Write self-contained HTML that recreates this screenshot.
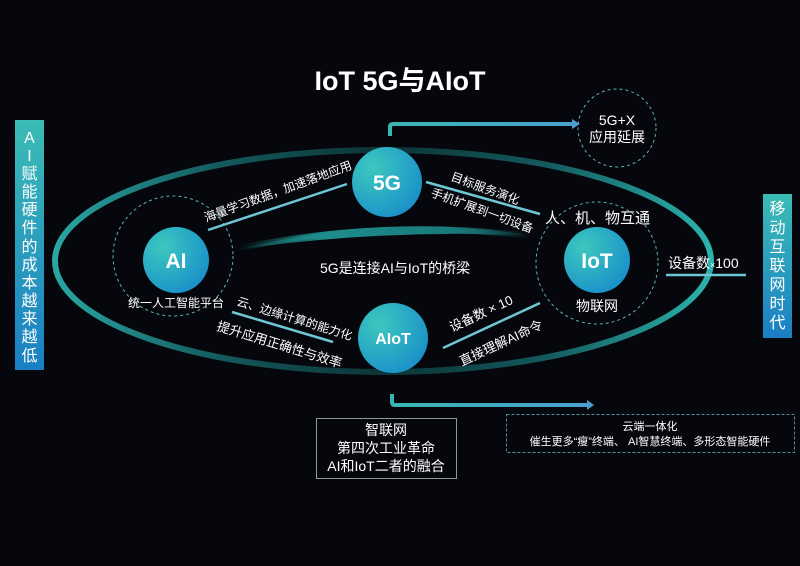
<!DOCTYPE html>
<html><head><meta charset="utf-8"><style>
html,body{margin:0;padding:0;background:#05070c;}
svg{display:block;}
text{font-family:"Liberation Sans","Noto Sans CJK SC",sans-serif;fill:#fff;}
</style></head><body>
<svg width="800" height="566" viewBox="0 0 800 566" xmlns="http://www.w3.org/2000/svg">
<defs>
<radialGradient id="cg" cx="30%" cy="30%" r="80%">
<stop offset="0" stop-color="#3cc8bf"/><stop offset="1" stop-color="#1a8fc9"/></radialGradient>
<linearGradient id="bar" x1="0" y1="0" x2="0" y2="1">
<stop offset="0" stop-color="#3bbcb5"/><stop offset="1" stop-color="#1a7fc4"/></linearGradient>
<linearGradient id="ell" x1="0" y1="0" x2="1" y2="0">
<stop offset="0" stop-color="#2aa6a2"/><stop offset="0.25" stop-color="#145a5d"/><stop offset="0.5" stop-color="#0c3436"/><stop offset="0.75" stop-color="#145a5d"/><stop offset="1" stop-color="#2bb3ad"/></linearGradient>
<linearGradient id="band" x1="0" y1="0" x2="1" y2="0">
<stop offset="0" stop-color="#1e8d8c" stop-opacity="0"/><stop offset="0.3" stop-color="#1e8d8c"/><stop offset="0.7" stop-color="#1a7a7c"/><stop offset="1" stop-color="#1a7a7c" stop-opacity="0"/></linearGradient>
<linearGradient id="arr" x1="0" y1="0" x2="1" y2="0">
<stop offset="0" stop-color="#3ab7b2"/><stop offset="1" stop-color="#4a9fd0"/></linearGradient>
</defs>
<rect width="800" height="566" fill="#05070c"/>
<text x="400" y="90" font-size="27" font-weight="bold" text-anchor="middle">IoT 5G与AIoT</text>

<ellipse cx="383" cy="261" rx="328" ry="111" fill="none" stroke="url(#ell)" stroke-width="6"/>
<path d="M235,250 Q385,212 535,236 Q385,228 235,250 Z" fill="url(#band)"/>
<path d="M240,248 Q385,218 530,236" fill="none" stroke="url(#band)" stroke-width="6"/>

<rect x="15" y="120" width="29" height="250" fill="url(#bar)"/>
<g font-size="16" text-anchor="middle">
<text x="29.5" y="143">A</text><text x="29.5" y="161">I</text><text x="29.5" y="179">赋</text><text x="29.5" y="197">能</text><text x="29.5" y="215">硬</text><text x="29.5" y="233">件</text><text x="29.5" y="252">的</text><text x="29.5" y="270">成</text><text x="29.5" y="288">本</text><text x="29.5" y="306">越</text><text x="29.5" y="324">来</text><text x="29.5" y="342">越</text><text x="29.5" y="361">低</text>
</g>
<rect x="763" y="194" width="29" height="144" fill="url(#bar)"/>
<g font-size="16" text-anchor="middle">
<text x="777.5" y="214">移</text><text x="777.5" y="233">动</text><text x="777.5" y="252">互</text><text x="777.5" y="271">联</text><text x="777.5" y="290">网</text><text x="777.5" y="309">时</text><text x="777.5" y="328">代</text>
</g>

<path d="M390,136 V127 Q390,124 393,124 H573" fill="none" stroke="url(#arr)" stroke-width="4"/>
<path d="M572,119 L580,124 L572,129 Z" fill="#4a9fd0"/>
<path d="M392,394 V402 Q392,405 395,405 H588" fill="none" stroke="url(#arr)" stroke-width="4"/>
<path d="M587,400 L594,405 L587,410 Z" fill="#4a9fd0"/>

<g fill="none" stroke="#5fb3b3" stroke-width="1" stroke-dasharray="3,3">
<circle cx="173" cy="256" r="60"/>
<circle cx="597" cy="263" r="61"/>
<circle cx="617" cy="128" r="39"/>
</g>

<g stroke="#6fc7d6" stroke-width="2.5">
<line x1="208" y1="230" x2="347" y2="184"/>
<line x1="232" y1="312" x2="333" y2="342"/>
<line x1="426" y1="182" x2="540" y2="214"/>
<line x1="443" y1="348" x2="540" y2="303"/>
<line x1="666" y1="275" x2="746" y2="275"/>
</g>

<circle cx="176" cy="260" r="33" fill="url(#cg)"/>
<circle cx="387" cy="182" r="35" fill="url(#cg)"/>
<circle cx="393" cy="338" r="35" fill="url(#cg)"/>
<circle cx="597" cy="260" r="33" fill="url(#cg)"/>
<g font-weight="bold" text-anchor="middle">
<text x="176" y="268" font-size="21">AI</text>
<text x="387" y="190" font-size="21">5G</text>
<text x="393" y="344" font-size="16">AIoT</text>
<text x="597" y="268" font-size="21">IoT</text>
</g>

<g font-size="12">
<text transform="translate(206,222) rotate(-20)">海量学习数据，加速落地应用</text>
<text x="128" y="307">统一人工智能平台</text>
<text transform="translate(236,305) rotate(17)">云、边缘计算的能力化</text>
<text transform="translate(216,330) rotate(17)" font-size="13">提升应用正确性与效率</text>
<text transform="translate(450,180) rotate(20)">目标服务演化</text>
<text transform="translate(430,196) rotate(20)">手机扩展到一切设备</text>
<text x="320" y="273" font-size="14" fill="#ddd">5G是连接AI与IoT的桥梁</text>
<text transform="translate(452,332) rotate(-25)" font-size="13">设备数 × 10</text>
<text transform="translate(462,366) rotate(-25)" font-size="13">直接理解AI命令</text>
</g>
<text x="545" y="223" font-size="15">人、机、物互通</text>
<text x="597" y="311" font-size="14" text-anchor="middle">物联网</text>
<text x="668" y="268" font-size="14">设备数<tspan font-size="9">×</tspan>100</text>
<text x="617" y="125" font-size="14" text-anchor="middle">5G+X</text>
<text x="617" y="142" font-size="14" text-anchor="middle">应用延展</text>

<rect x="316.5" y="418.5" width="140" height="60" fill="none" stroke="#8a9a9a" stroke-width="1"/>
<g font-size="14" text-anchor="middle">
<text x="386" y="435">智联网</text>
<text x="386" y="453">第四次工业革命</text>
<text x="386" y="471">AI和IoT二者的融合</text>
</g>
<rect x="506.5" y="414.5" width="288" height="38" fill="none" stroke="#4d8f9a" stroke-width="1" stroke-dasharray="3,2"/>
<text x="650" y="430" font-size="11" text-anchor="middle">云端一体化</text>
<text x="650" y="445" font-size="11" text-anchor="middle">催生更多“瘦”终端、 AI智慧终端、多形态智能硬件</text>
</svg>
</body></html>
